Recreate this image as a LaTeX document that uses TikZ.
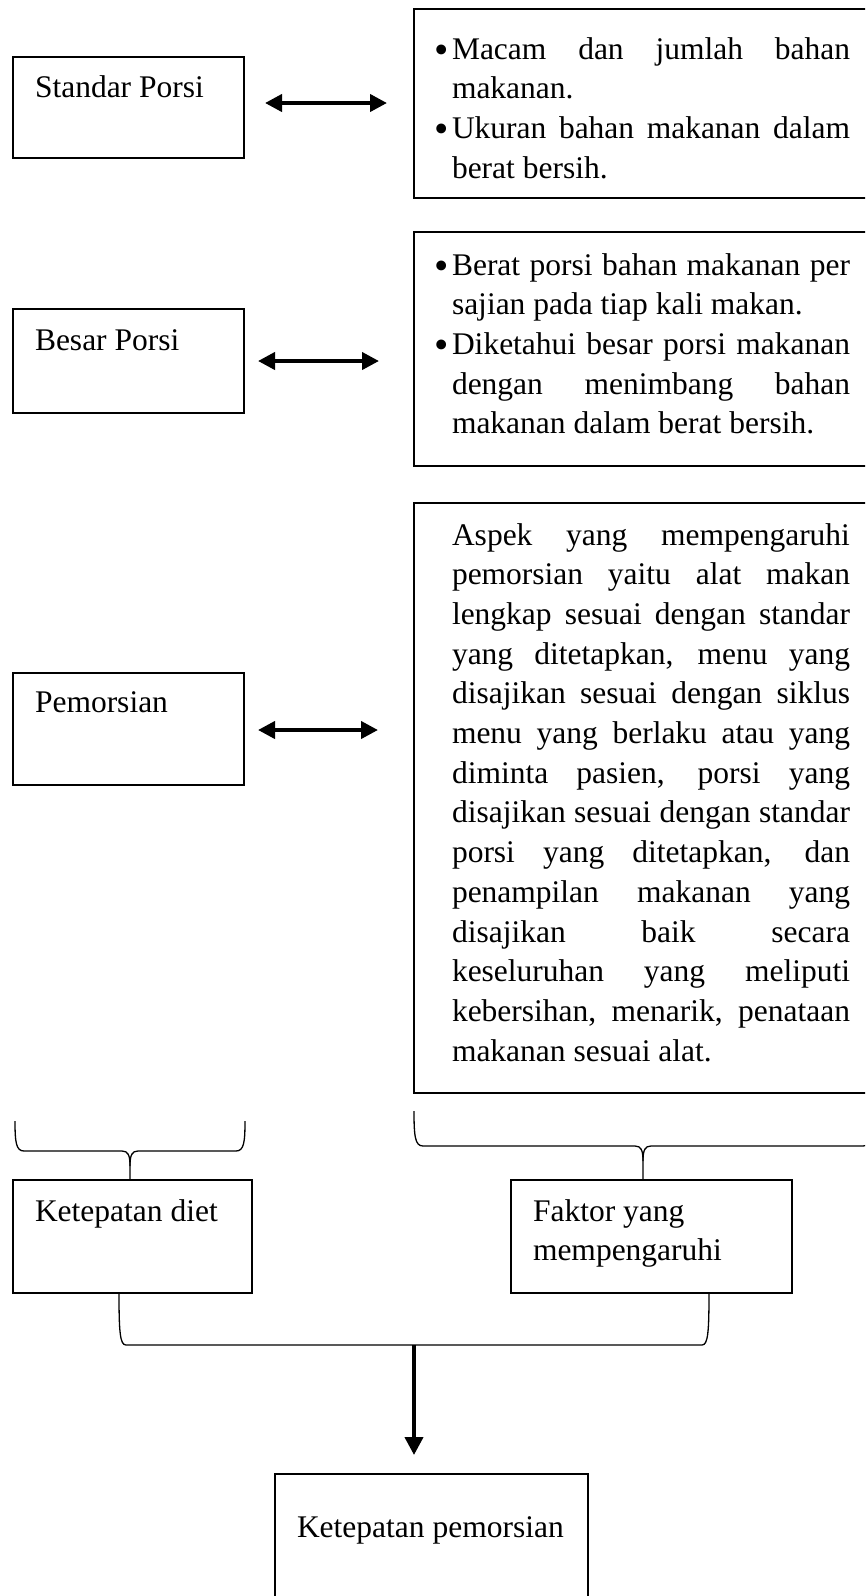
\documentclass[tikz,border=0pt]{standalone}
\usepackage{fontspec}
\setmainfont{Liberation Serif}
\usetikzlibrary{arrows.meta}
\newcommand{\jl}[1]{\makebox[398pt][s]{#1}}
\newcommand{\bul}{\llap{\raisebox{-4pt}{\scalebox{1.3}{\textbullet}}\hspace{3pt}}}
\begin{document}
\begin{tikzpicture}[x=1pt,y=-1pt,
  box/.style={draw,line width=2.8pt,inner sep=0pt,outer sep=0pt,anchor=north west},
  txt/.style={anchor=base west,inner sep=0pt,outer sep=0pt,font=\fontsize{31.5}{39.7}\selectfont},
  dbl/.style={line width=4pt,{Triangle[length=17pt,width=17pt]}-{Triangle[length=17pt,width=17pt]}},
  brace/.style={line width=1.3pt},
  down/.style={line width=4pt,-{Triangle[length=18pt,width=18pt]}}]
\useasboundingbox (0,0) rectangle (865,1596);
\clip (0,0) rectangle (865,1596);
% left boxes
\node[box,minimum width=231pt,minimum height=101pt] (sp) at (13,57) {};
\node[box,minimum width=231pt,minimum height=104pt] (bp) at (13,309) {};
\node[box,minimum width=231pt,minimum height=112pt] (pm) at (13,673) {};
\node[box,minimum width=239pt,minimum height=113pt] (kd) at (13,1180) {};
\node[box,minimum width=281pt,minimum height=113pt] (fy) at (511,1180) {};
\node[box,minimum width=313pt,minimum height=200pt] (kp) at (275,1474) {};
% right boxes
\node[box,minimum width=480pt,minimum height=189pt] (r1) at (414,9) {};
\node[box,minimum width=480pt,minimum height=234pt] (r2) at (414,232) {};
\node[box,minimum width=480pt,minimum height=590pt] (r3) at (414,503) {};
% labels
\node[txt] (tsp) at (35,97) {Standar Porsi};
\node[txt] (tbp) at (35,350) {Besar Porsi};
\node[txt] (tpm) at (35,712) {Pemorsian};
\node[txt] (tkd) at (35,1221) {Ketepatan diet};
\node[txt] (tfy) at (533,1221) {\begin{tabular}[t]{@{}l@{}}Faktor yang\\mempengaruhi\end{tabular}};
\node[txt] (tkp) at (297,1537) {Ketepatan pemorsian};
\node[txt] (t1) at (452,59) {\begin{tabular}[t]{@{}l@{}}
\bul\jl{Macam dan jumlah bahan}\\
makanan.\\
\bul\jl{Ukuran bahan makanan dalam}\\
berat bersih.
\end{tabular}};
\node[txt] (t2) at (452,275) {\begin{tabular}[t]{@{}l@{}}
\bul\jl{Berat porsi bahan makanan per}\\
sajian pada tiap kali makan.\\
\bul\jl{Diketahui besar porsi makanan}\\
\jl{dengan menimbang bahan}\\
makanan dalam berat bersih.
\end{tabular}};
\node[txt] (t3) at (452,545) {\begin{tabular}[t]{@{}l@{}}
\jl{Aspek yang mempengaruhi}\\
\jl{pemorsian yaitu alat makan}\\
\jl{lengkap sesuai dengan standar}\\
\jl{yang ditetapkan, menu yang}\\
\jl{disajikan sesuai dengan siklus}\\
\jl{menu yang berlaku atau yang}\\
\jl{diminta pasien, porsi yang}\\
\jl{disajikan sesuai dengan standar}\\
\jl{porsi yang ditetapkan, dan}\\
\jl{penampilan makanan yang}\\
\jl{disajikan baik secara}\\
\jl{keseluruhan yang meliputi}\\
\jl{kebersihan, menarik, penataan}\\
makanan sesuai alat.
\end{tabular}};
% double arrows
\coordinate (a1l) at (265,103); \coordinate (a1r) at (387,103);
\coordinate (a2l) at (258,361); \coordinate (a2r) at (379,361);
\coordinate (a3l) at (258,730); \coordinate (a3r) at (378,730);
\draw[dbl] (a1l) -- (a1r);
\draw[dbl] (a2l) -- (a2r);
\draw[dbl] (a3l) -- (a3r);
% brace above Ketepatan diet
\coordinate (c1) at (130,1166);
\draw[brace] (15,1121) .. controls (15,1142) and (16,1151) .. (24,1151) -- (122,1151)
  .. controls (128,1151) and (130,1155) .. (c1) -- (c1 |- kd.north);
\draw[brace] (245,1121) .. controls (245,1142) and (244,1151) .. (236,1151) -- (138,1151)
  .. controls (132,1151) and (130,1155) .. (c1);
% brace above Faktor
\coordinate (c2) at (643,1161);
\draw[brace] (414,1111) .. controls (414,1136) and (415,1146) .. (423,1146) -- (635,1146)
  .. controls (641,1146) and (643,1150) .. (c2) -- (c2 |- fy.north);
\draw[brace] (872,1111) .. controls (872,1136) and (871,1146) .. (863,1146) -- (651,1146)
  .. controls (645,1146) and (643,1150) .. (c2);
% lower brace
\coordinate (jn) at (414,1345);
\coordinate (bl) at (119,1300);
\coordinate (br) at (709,1300);
\draw[brace] (bl |- kd.south) .. controls (119,1332) and (120,1345) .. (126,1345) -- (702,1345)
  .. controls (708,1345) and (709,1332) .. (br |- fy.south);
\draw[down] (jn) -- ([yshift=19pt]kp.north -| jn);
\end{tikzpicture}
\end{document}
